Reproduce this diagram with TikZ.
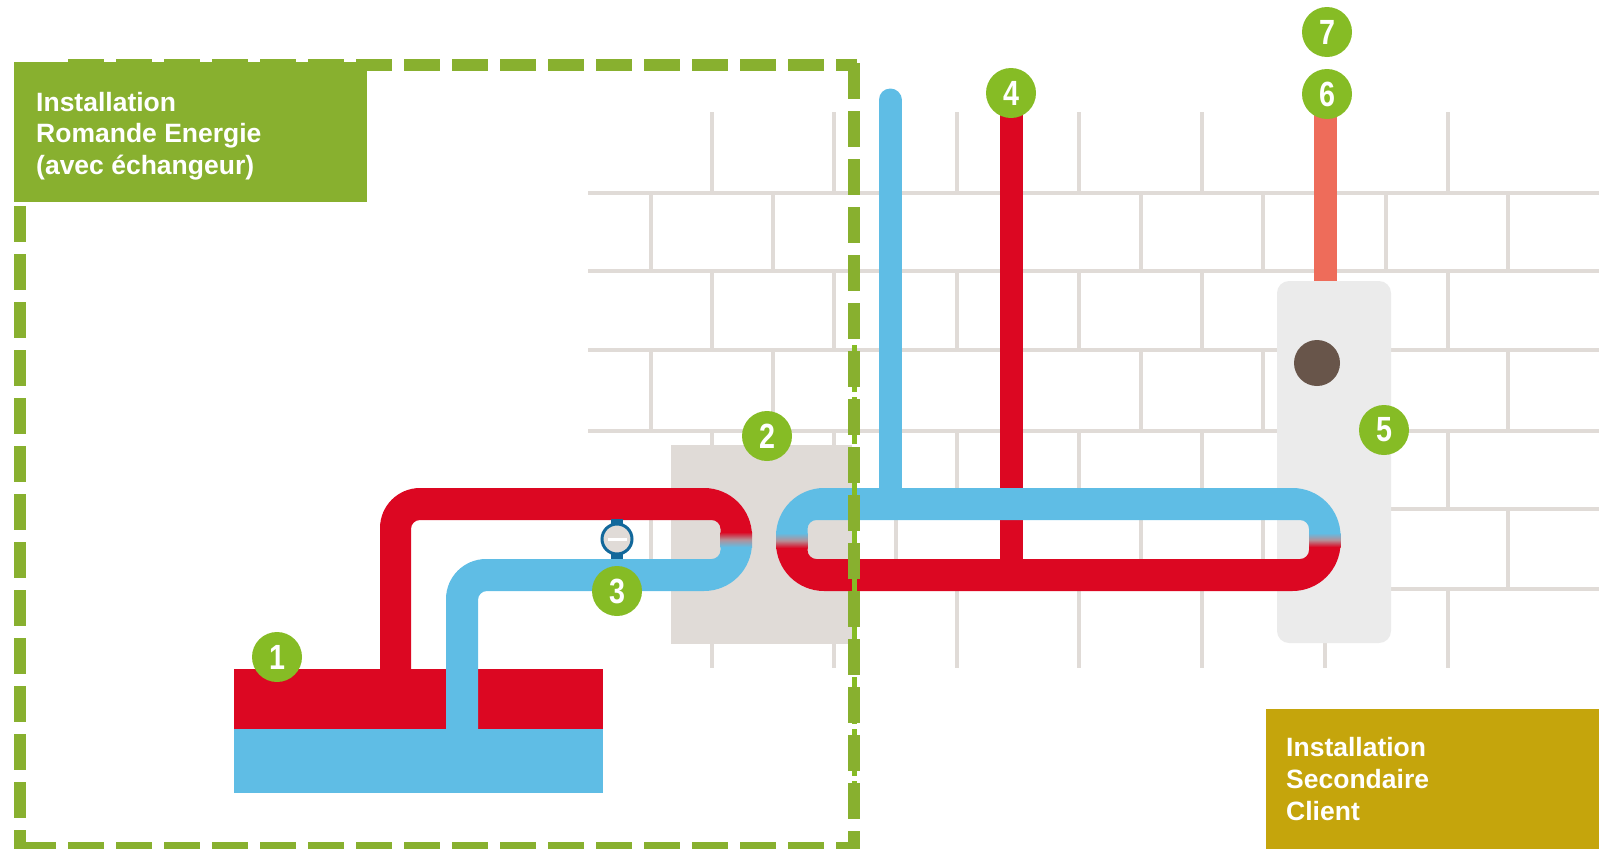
\documentclass[tikz,border=0pt]{standalone}
\usepackage{fontspec}
\setmainfont{Liberation Sans}
\newfontfamily\digitfont[FakeStretch=0.82]{Liberation Sans Bold}
\definecolor{pipered}{HTML}{DC0722}
\definecolor{pipeblue}{HTML}{5FBDE5}
\definecolor{pipeorange}{HTML}{EE6C5A}
\definecolor{brickgrey}{HTML}{E0DBD7}
\definecolor{boxgrey}{HTML}{EBEBEB}
\definecolor{dashgreen}{HTML}{88B02F}
\definecolor{badgegreen}{HTML}{86BC25}
\definecolor{clientgold}{HTML}{C5A50C}
\definecolor{knobbrown}{HTML}{68554A}
\definecolor{pumpblue}{HTML}{12689B}
\definecolor{mixgrey}{HTML}{B58F97}
\tikzset{
  badge/.style={circle, fill=badgegreen, text=white, minimum size=50pt, inner sep=0pt, font=\digitfont\fontsize{35}{35}\selectfont},
  title/.style={anchor=west, inner sep=0pt, align=left, text=white, font=\bfseries\fontsize{26.5}{31.7}\selectfont},
  brick/.style={brickgrey, line width=4pt},
  outer/.style={rounded corners=48pt},
  inner/.style={rounded corners=9pt},
  boundary/.style={dashgreen, line width=12pt, dash pattern=on 36pt off 12pt},
  thinline/.style={badgegreen, line width=4.5pt, dash pattern=on 47pt off 5pt}
}
\begin{document}
\begin{tikzpicture}[x=1pt, y=-1pt]
    \useasboundingbox (0,0) rectangle (1599,849);
    \clip (0,0) rectangle (1599,849);

    % wall
    \foreach \y in {193,271,350,431,509,589}
        \draw[brick] (588,\y) -- (1599,\y);
    \foreach \ya/\yb in {112/193,271/350,431/509,589/668}
        \foreach \x in {712,834,957,1079,1202,1325,1448}
            \draw[brick] (\x,\ya) -- (\x,\yb);
    \foreach \ya/\yb in {193/271,350/431,509/589}
        \foreach \x in {651,773,896,1018,1141,1263,1386,1508}
            \draw[brick] (\x,\ya) -- (\x,\yb);

    % boxes
    \fill[brickgrey] (671,445) rectangle (852,644);
    \fill[boxgrey, rounded corners=12pt] (1277,281) rectangle (1391,643);
    \fill[knobbrown] (1317,363) circle (23pt);

    % tank
    \fill[pipered] (234,669) rectangle (603,729);
    \fill[pipeblue] (234,729) rectangle (603,793);

    % primary side
    \fill[pipered] (380,669) [rounded corners=40pt] -- (380,488) [outer] -- (752,488) [sharp corners] -- (752,536) -- (720.5,536) [inner] -- (720.5,520) -- (411,520) [sharp corners] -- (411,669) -- cycle;
    \fill[pipeblue] (446,730) [rounded corners=40pt] -- (446,559) [inner] -- (720.5,559) [sharp corners] -- (720.5,543) -- (752,543) [outer] -- (752,591) [inner] -- (478,591) [sharp corners] -- (478,730) -- cycle;
    \shade[top color=pipered, bottom color=pipeblue, middle color=mixgrey] (720.5,532) rectangle (752,547);

    % pump
    \fill[pumpblue] (611,519) rectangle (623,559);
    \draw[pumpblue, line width=3pt, fill=brickgrey] (617,539) circle (15pt);
    \fill[white] (608,537.5) rectangle (627,541);

    % secondary side
    \draw[pipered, line width=23pt] (1011.5,100) -- (1011.5,575);
    \draw[pipeorange, line width=23pt] (1325,100) -- (1325,281);
    \fill[pipered] (776,543) [outer] -- (776,591) -- (1340.5,591) [sharp corners] -- (1340.5,543) -- (1309,543) [inner] -- (1309,559) -- (807.5,559) [sharp corners] -- (807.5,543) -- cycle;
    \draw[pipeblue, line width=23pt, line cap=round] (890,100) -- (890,504);
    \fill[pipeblue] (776,536) [outer] -- (776,488) -- (1340.5,488) [sharp corners] -- (1340.5,536) -- (1309,536) [inner] -- (1309,520) -- (807.5,520) [sharp corners] -- (807.5,536) -- cycle;
    \shade[top color=pipeblue, bottom color=pipered, middle color=mixgrey] (776,533) rectangle (807.5,548);
    \shade[top color=pipeblue, bottom color=pipered, middle color=mixgrey] (1309,533) rectangle (1340.5,547);

    % limit of the installation
    \draw[thinline] (854.5,345) -- (854.5,675);
    \draw[thinline] (854.5,677) -- (854.5,819);
    \draw[boundary] (68,64.5) -- (857,64.5);
    \draw[boundary] (854,63) -- (854,849);
    \draw[boundary] (20,848) -- (860,848);
    \draw[boundary] (20,62) -- (20,849);

    % titles
    \fill[dashgreen] (14,62) rectangle (367,202);
    \fill[clientgold] (1266,709) rectangle (1599,849);
    \node[title] (romande) at (36,136) {Installation\\Romande Energie\\(avec échangeur)};
    \node[title] (client) at (1286,779) {Installation\\Secondaire\\Client};

    % numbers
    \node[badge] (n1) at (277,657) {1};
    \node[badge] (n2) at (767,436) {2};
    \node[badge] (n3) at (617,591) {3};
    \node[badge] (n4) at (1011,93) {4};
    \node[badge] (n5) at (1384,430) {5};
    \node[badge] (n6) at (1327,94) {6};
    \node[badge] (n7) at (1327,32) {7};
\end{tikzpicture}
\end{document}
